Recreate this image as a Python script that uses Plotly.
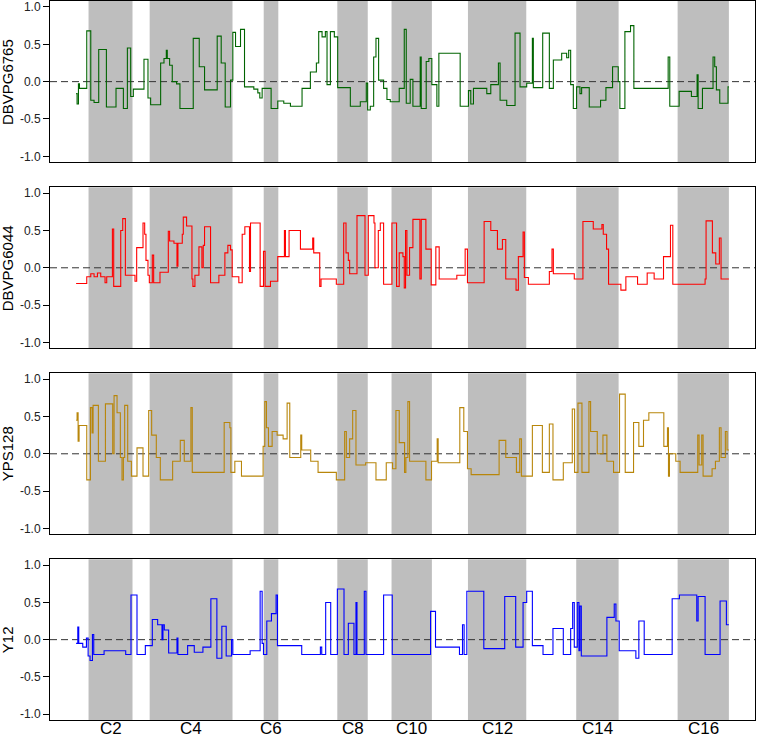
import plotly.graph_objects as go
from plotly.subplots import make_subplots

# chromosome sizes (Mb), C1..C16
chrom_len_mb = [0.230, 0.813, 0.317, 1.532, 0.577, 0.270, 1.091, 0.563,
                0.440, 0.746, 0.667, 1.078, 0.924, 0.784, 1.091, 0.948]
even_labels = ["C2", "C4", "C6", "C8", "C10", "C12", "C14", "C16"]

strains = ["DBVPG6765", "DBVPG6044", "YPS128", "Y12"]
line_colors = ["#006400", "#FF0000", "#B8860B", "#0000FF"]

# segment starts (Mb along the genome) and levels for each strain
dbvpg6765_pos = [0.000, 0.018, 0.043, 0.062, 0.197, 0.271, 0.332, 0.418, 0.560, 0.738,
                 0.874, 0.948, 1.009, 1.058, 1.255, 1.329, 1.378, 1.563, 1.625, 1.668,
                 1.686, 1.729, 1.778, 1.858, 1.920, 2.166, 2.277, 2.375, 2.609, 2.683,
                 2.757, 2.855, 2.898, 2.948, 3.040, 3.114, 3.286, 3.360, 3.397, 3.440,
                 3.606, 3.729, 3.840, 3.963, 4.178, 4.332, 4.443, 4.486, 4.548, 4.609,
                 4.640, 4.702, 4.775, 4.837, 5.071, 5.255, 5.366, 5.391, 5.440, 5.502,
                 5.545, 5.594, 5.686, 5.748, 5.809, 5.975, 6.068, 6.105, 6.178, 6.228,
                 6.363, 6.382, 6.474, 6.523, 6.578, 6.671, 6.708, 7.102, 7.255, 7.298,
                 7.348, 7.594, 7.668, 7.809, 7.840, 7.963, 8.117, 8.209, 8.332, 8.437,
                 8.455, 8.628, 8.751, 8.825, 8.979, 9.071, 9.108, 9.145, 9.194, 9.255,
                 9.317, 9.348, 9.489, 9.698, 9.797, 9.920, 10.025, 10.055, 10.148, 10.252,
                 10.314, 10.948, 10.978, 11.151, 11.378, 11.483, 11.502, 11.582, 11.778, 11.809,
                 11.840, 11.902, 12.055]
dbvpg6765_val = [-0.16, -0.30, -0.03, -0.09, 0.68, -0.25, -0.28, 0.43, -0.34, -0.09,
                 -0.36, 0.45, -0.20, -0.10, 0.30, -0.22, -0.31, 0.25, 0.31, 0.42,
                 0.31, 0.22, 0.00, -0.03, -0.36, 0.58, 0.20, -0.11, 0.61, 0.25,
                 -0.34, 0.02, 0.66, 0.47, 0.70, -0.07, -0.10, -0.15, -0.22, -0.09,
                 -0.36, -0.26, -0.29, -0.33, -0.09, 0.13, 0.25, 0.67, 0.60, 0.67,
                 -0.04, 0.67, 0.60, -0.08, -0.33, -0.27, -0.02, -0.38, -0.33, 0.33,
                 0.58, 0.02, -0.09, -0.24, -0.27, -0.09, 0.70, -0.29, 0.03, -0.33,
                 0.33, -0.36, 0.27, 0.31, -0.04, -0.33, 0.38, -0.33, -0.12, -0.30,
                 -0.09, -0.16, -0.04, 0.25, -0.25, -0.32, 0.65, -0.07, -0.02, 0.58,
                 -0.08, 0.65, -0.09, 0.29, 0.38, 0.32, 0.42, -0.04, -0.36, -0.07,
                 -0.16, -0.08, -0.34, -0.25, -0.08, 0.20, 0.00, -0.36, 0.67, 0.75,
                 -0.09, 0.33, -0.33, -0.13, -0.20, 0.09, -0.36, -0.09, 0.33, 0.20,
                 -0.11, -0.29, -0.07]

dbvpg6044_pos = [0.000, 0.197, 0.271, 0.332, 0.394, 0.455, 0.535, 0.566, 0.671, 0.695,
                 0.825, 0.862, 0.911, 1.089, 1.120, 1.237, 1.268, 1.292, 1.329, 1.354,
                 1.409, 1.434, 1.551, 1.705, 1.729, 1.809, 1.865, 1.883, 1.963, 1.982,
                 2.043, 2.142, 2.160, 2.197, 2.271, 2.326, 2.351, 2.375, 2.486, 2.640,
                 2.751, 2.806, 2.855, 2.886, 3.009, 3.071, 3.120, 3.206, 3.225, 3.403,
                 3.465, 3.495, 3.594, 3.729, 3.852, 3.871, 3.938, 4.148, 4.375, 4.394,
                 4.505, 4.529, 4.812, 4.948, 4.991, 5.034, 5.058, 5.194, 5.342, 5.403,
                 5.508, 5.526, 5.588, 5.625, 5.686, 5.840, 5.926, 5.975, 6.043, 6.068,
                 6.092, 6.117, 6.166, 6.228, 6.357, 6.382, 6.468, 6.566, 6.652, 6.714,
                 7.040, 7.194, 7.237, 7.545, 7.668, 7.791, 7.883, 7.945, 8.135, 8.178,
                 8.265, 8.289, 8.363, 8.751, 8.800, 8.825, 9.212, 9.372, 9.563, 9.723,
                 9.748, 9.809, 9.846, 10.074, 10.166, 10.382, 10.560, 10.689, 10.862, 10.991,
                 11.034, 11.631, 11.649, 11.766, 11.828, 11.895, 11.926]
dbvpg6044_val = [-0.21, -0.12, -0.08, -0.12, -0.07, -0.12, -0.20, -0.12, 0.52, -0.25,
                 0.50, 0.66, -0.10, -0.18, 0.27, 0.60, 0.45, 0.10, -0.10, -0.20,
                 0.17, -0.20, -0.06, 0.49, 0.36, 0.33, 0.02, 0.33, 0.45, 0.68,
                 0.56, -0.15, -0.25, -0.10, 0.28, 0.00, 0.30, 0.55, -0.20, -0.10,
                 0.20, 0.30, 0.24, -0.12, -0.20, 0.45, 0.55, -0.05, 0.60, -0.25,
                 0.22, -0.25, -0.18, 0.15, 0.50, 0.15, 0.50, 0.25, 0.40, 0.20,
                 -0.25, -0.15, -0.22, 0.60, 0.20, 0.10, -0.08, 0.70, -0.10, 0.70,
                 0.60, 0.00, 0.50, 0.60, -0.22, 0.60, -0.25, 0.20, 0.15, -0.27,
                 0.50, -0.10, 0.27, 0.65, -0.15, 0.65, 0.25, -0.23, 0.28, -0.15,
                 -0.10, 0.25, -0.20, 0.62, 0.50, 0.25, 0.38, -0.15, -0.30, 0.15,
                 0.48, -0.13, -0.22, -0.05, 0.25, -0.08, -0.15, 0.62, 0.52, 0.58,
                 0.45, 0.25, -0.22, -0.30, -0.12, -0.22, -0.07, -0.15, 0.15, 0.57,
                 -0.22, -0.15, 0.63, 0.20, 0.05, 0.40, -0.15]

yps128_pos = [0.000, 0.018, 0.037, 0.055, 0.197, 0.265, 0.295, 0.314, 0.412, 0.542,
              0.677, 0.702, 0.757, 0.818, 0.849, 0.874, 0.898, 0.954, 1.022, 1.126,
              1.237, 1.342, 1.397, 1.483, 1.557, 1.785, 1.926, 2.000, 2.123, 2.148,
              2.738, 2.843, 2.862, 2.935, 3.058, 3.458, 3.489, 3.520, 3.557, 3.625,
              3.717, 3.828, 3.902, 3.951, 4.154, 4.172, 4.338, 4.474, 4.812, 4.966,
              4.997, 5.058, 5.114, 5.175, 5.354, 5.545, 5.735, 5.852, 5.914, 5.975,
              6.074, 6.098, 6.135, 6.166, 6.468, 6.572, 6.677, 6.695, 7.095, 7.169,
              7.237, 7.305, 7.822, 7.945, 8.142, 8.203, 8.234, 8.437, 8.622, 8.751,
              8.818, 9.009, 9.175, 9.218, 9.280, 9.354, 9.483, 9.514, 9.637, 9.742,
              9.815, 9.938, 10.049, 10.154, 10.308, 10.406, 10.492, 10.591, 10.868, 10.935,
              10.954, 10.972, 11.089, 11.169, 11.495, 11.520, 11.569, 11.594, 11.760, 11.822,
              11.895, 11.926, 12.006, 12.037]
yps128_val = [0.45, 0.55, 0.17, 0.38, -0.35, 0.62, 0.28, 0.65, -0.10, 0.67,
              0.00, 0.78, 0.55, -0.05, -0.35, -0.05, 0.65, -0.10, -0.30, 0.08,
              -0.30, 0.58, 0.25, -0.05, -0.35, -0.10, 0.18, -0.10, 0.62, -0.25,
              0.42, 0.35, -0.25, -0.10, -0.30, 0.10, 0.70, 0.35, 0.10, 0.30,
              0.25, 0.20, 0.68, -0.05, 0.25, 0.05, -0.10, -0.25, -0.35, 0.30,
              -0.05, 0.20, 0.58, -0.15, -0.12, -0.35, -0.12, -0.20, 0.58, 0.15,
              -0.25, -0.05, 0.70, -0.10, -0.35, -0.10, 0.20, -0.12, 0.62, 0.30,
              -0.20, -0.28, 0.18, -0.05, -0.25, 0.20, -0.30, 0.38, -0.25, 0.40,
              -0.35, -0.12, 0.60, -0.25, 0.68, -0.25, 0.70, 0.30, 0.00, 0.25,
              -0.10, -0.25, 0.80, -0.25, 0.42, 0.10, 0.45, 0.55, 0.10, 0.35,
              -0.30, 0.00, -0.10, -0.25, 0.25, -0.15, 0.25, -0.30, -0.20, -0.10,
              0.35, -0.05, 0.30, 0.05]

y12_pos = [0.000, 0.031, 0.049, 0.123, 0.191, 0.222, 0.258, 0.302, 0.326, 0.517,
           0.917, 1.015, 1.126, 1.280, 1.409, 1.508, 1.588, 1.606, 1.631, 1.711,
           1.865, 1.883, 2.062, 2.185, 2.345, 2.492, 2.603, 2.695, 2.775, 2.874,
           2.898, 3.218, 3.403, 3.440, 3.465, 3.526, 3.612, 3.698, 3.723, 4.172,
           4.517, 4.542, 4.615, 4.708, 4.831, 4.954, 5.034, 5.138, 5.175, 5.194,
           5.329, 5.360, 5.686, 5.846, 6.554, 6.646, 7.089, 7.145, 7.175, 7.225,
           7.539, 7.926, 8.129, 8.265, 8.332, 8.437, 8.634, 8.818, 9.009, 9.145,
           9.182, 9.212, 9.268, 9.298, 9.317, 9.342, 9.815, 9.951, 9.982, 10.043,
           10.351, 10.406, 10.505, 11.022, 11.157, 11.477, 11.502, 11.631, 11.908, 12.025]
y12_val = [-0.05, 0.17, -0.05, -0.10, 0.02, -0.22, -0.28, 0.07, -0.20, -0.15,
           -0.20, 0.60, -0.20, -0.08, 0.27, 0.20, 0.00, 0.20, 0.13, -0.18,
           0.02, -0.20, -0.08, -0.17, -0.10, 0.55, -0.25, 0.18, -0.22, 0.00,
           -0.20, -0.15, 0.65, -0.05, -0.20, 0.25, 0.35, 0.60, -0.08, -0.20,
           -0.10, -0.20, 0.50, -0.20, 0.68, -0.20, 0.22, -0.20, 0.50, -0.20,
           0.65, -0.20, 0.60, -0.20, 0.38, -0.10, -0.20, 0.20, -0.20, 0.65,
           -0.12, 0.58, -0.10, 0.50, 0.65, -0.08, -0.20, 0.15, -0.20, 0.15,
           0.50, -0.10, 0.50, -0.15, 0.45, -0.22, 0.30, 0.48, 0.25, -0.15,
           -0.25, 0.25, -0.20, 0.55, 0.60, 0.25, 0.58, -0.20, 0.52, 0.20]

y_ticks = [-1.0, -0.5, 0.0, 0.5, 1.0]
y_tick_text = ["-1.0", "-0.5", "0.0", "0.5", "1.0"]

tracks = [(dbvpg6765_pos, dbvpg6765_val), (dbvpg6044_pos, dbvpg6044_val),
          (yps128_pos, yps128_val), (y12_pos, y12_val)]

# cumulative chromosome starts
starts = [0.0]
for L in chrom_len_mb:
    starts.append(starts[-1] + L)
genome_end = starts[-1]
pad = 0.04 * genome_end
even_centres = [(starts[k] + starts[k + 1]) / 2 for k in range(1, 16, 2)]

fig = make_subplots(rows=4, cols=1)
y_domains = [[0.7757, 1.0], [0.5170, 0.7409], [0.2583, 0.4822], [0.0, 0.2235]]
font = "Liberation Sans, Arial, Helvetica, sans-serif"

# the lines first, so the subplots are not empty when shapes are added
for i, (color, (pos, val)) in enumerate(zip(line_colors, tracks)):
    fig.add_trace(go.Scatter(
        x=list(pos) + [genome_end], y=list(val) + [val[-1]],
        mode="lines", line=dict(color=color, width=1.1, shape="hv"),
        showlegend=False, hoverinfo="skip"
    ), row=i + 1, col=1)

for i, name in enumerate(strains):
    r = i + 1
    # grey bands for even chromosomes
    for k in range(1, 16, 2):
        fig.add_vrect(x0=starts[k], x1=starts[k + 1], fillcolor="#BEBEBE", opacity=1,
                      line_width=0, layer="below", row=r, col=1)
    fig.add_hline(y=0, line=dict(color="#333333", width=1, dash="7px,4px"),
                  layer="below", row=r, col=1)
    fig.add_annotation(text=name, textangle=-90, xref="paper", x=-0.0603,
                       yref="paper", y=sum(y_domains[i]) / 2, xanchor="center",
                       yanchor="middle", showarrow=False,
                       font=dict(size=15, color="black", family=font))

# chromosome labels under the bottom panel
for c, lab in zip(even_centres, even_labels):
    fig.add_annotation(text=lab, xref="x4", x=c, yref="paper", y=0, yanchor="top",
                       xanchor="center", yshift=3, showarrow=False,
                       font=dict(size=17, color="black", family=font))

fig.update_xaxes(range=[-pad, genome_end + pad], showline=True, mirror=True,
                 linecolor="black", linewidth=1, showgrid=False, zeroline=False,
                 ticks="", showticklabels=False, automargin=False)
fig.update_yaxes(range=[-1.08, 1.08], tickvals=y_ticks, ticktext=y_tick_text,
                 ticks="outside", ticklen=6, tickcolor="black", showline=True,
                 mirror=True, linecolor="black", linewidth=1, showgrid=False,
                 zeroline=False, automargin=False,
                 tickfont=dict(size=12, color="#222222", family=font))

fig.update_layout(
    width=757, height=738,
    margin=dict(l=50, r=2, t=1, b=18),
    plot_bgcolor="white", paper_bgcolor="white",
    yaxis=dict(domain=y_domains[0]), yaxis2=dict(domain=y_domains[1]),
    yaxis3=dict(domain=y_domains[2]), yaxis4=dict(domain=y_domains[3]),
)

# drop the browser's default page margin so the figure sits at the corner
fig.write_html("out.html", config={"displayModeBar": False},
               post_script="document.body.style.margin='0';")
